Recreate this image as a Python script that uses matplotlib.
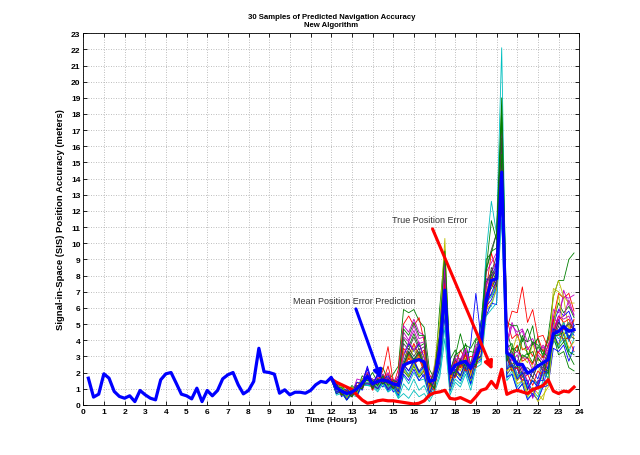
import numpy as np
import matplotlib
matplotlib.use("Agg")
import matplotlib.pyplot as plt

plt.rcParams["font.family"] = ["Liberation Sans", "DejaVu Sans"]

# mean position error prediction, every 15 min from 0.25 h to 23.75 h
mean_pred = [
    1.65, 0.48, 0.66, 1.92, 1.65, 0.83, 0.52, 0.41, 0.56, 0.20, 0.89, 0.62,
    0.41, 0.31, 1.55, 1.92, 2.00, 1.34, 0.66, 0.56, 0.37, 1.03, 0.20, 0.89,
    0.56, 0.89, 1.61, 1.86, 2.00, 1.24, 0.68, 0.89, 1.45, 3.50, 2.05, 2.00,
    1.90, 0.72, 0.93, 0.62, 0.78, 0.78, 0.72, 0.89, 1.24, 1.45, 1.38,
    1.70, 1.05, 0.85, 0.70, 0.80, 1.00, 1.35, 1.75, 1.30, 1.45, 1.55, 1.45,
    1.30, 1.20, 2.45, 2.60, 2.70, 2.80, 2.65, 1.45, 1.55, 3.40, 7.10, 1.95,
    2.45, 2.60, 2.70, 2.25, 3.00, 3.80, 6.50, 7.70, 7.80, 14.40, 3.20, 3.00,
    2.50, 2.50, 1.95, 2.15, 2.40, 2.60, 2.80, 4.40, 4.55, 4.85, 4.55, 4.65,
]

# true position error from 12.0 h to 23.75 h
true_err = [
    1.60, 1.40, 1.25, 1.10, 0.95, 0.60, 0.30, 0.10, 0.15, 0.25, 0.30, 0.25,
    0.25, 0.20, 0.15, 0.10, 0.05, 0.10, 0.25, 0.60, 0.75, 0.80, 0.90, 0.40,
    0.35, 0.45, 0.30, 0.15, 0.50, 0.90, 1.00, 1.45, 1.05, 2.20, 0.65, 0.80,
    0.90, 0.80, 0.70, 0.95, 1.05, 1.20, 1.55, 0.85, 0.70, 0.85, 0.80, 1.10,
]

# 30 predicted samples, 12.0 h to 23.75 h
samples = [
    [1.7,1.3,0.7,0.5,0.9,1.2,0.9,1.8,1.0,1.5,1.1,1.6,0.8,1.0, 2.4,1.8,2.6,2.1,1.7, 0.9,1.6,2.6,6.9,1.2,
     2.4,1.8,2.7,1.6,2.9,3.0, 6.6,6.8,7.4,13.5, 2.2,3.0,1.8,2.4,1.3,2.1,1.6,2.6,2.2, 4.5,3.7,4.9,4.0,4.6],
    [1.6,1.0,1.3,0.7,1.2,0.9,1.8,1.5,2.0,1.4,2.3,1.5,1.9,2.4, 5.9,5.7,5.9,5.2,4.8, 2.2,1.6,6.0,9.6,2.8,
     3.4,2.6,3.8,2.5,4.0,4.2, 9.0,9.4,10.6,18.5, 4.6,3.4,3.6,2.9,3.2,2.6,3.6,3.1,4.0, 5.2,6.3,5.7,6.1,5.4],
    [1.7,1.3,0.6,0.9,0.6,1.4,1.1,2.0,1.2,1.9,1.5,1.9,1.2,2.2, 5.0,5.5,4.9,5.4,3.9, 1.9,1.3,4.4,7.6,2.4,
     2.4,3.4,2.8,3.0,2.9,4.4, 7.1,9.4,8.2,17.0, 5.3,4.1,4.4,3.4,3.6,3.0,4.2,3.3,4.1, 5.4,6.9,6.6,6.9,5.8],
    [1.6,0.7,0.8,0.4,0.7,0.6,1.3,1.2,1.2,0.9,1.4,0.8,1.1,0.5, 1.8,1.3,2.0,1.5,1.6, 0.6,1.2,2.2,5.4,0.9,
     1.9,1.5,2.3,1.4,2.7,4.6, 9.4,12.6,10.6,22.1, 3.1,3.2,1.7,2.1,1.1,1.5,1.3,2.0,1.9, 4.0,3.5,4.8,3.9,4.9],
    [1.7,1.2,0.6,0.9,0.7,1.6,1.5,2.3,1.3,1.9,1.6,2.0,1.3,1.8, 4.5,4.0,4.9,4.1,4.2, 1.2,2.0,3.9,7.9,1.9,
     2.9,2.4,3.3,2.2,3.5,3.8, 7.4,8.2,8.8,16.0, 4.0,5.1,4.2,4.6,3.4,3.9,3.2,3.6,3.0, 5.4,5.0,7.1,6.2,5.6],
    [1.6,1.4,0.7,1.0,0.7,1.2,1.0,1.9,1.0,1.6,1.3,1.7,1.1,1.4, 3.3,2.8,3.7,3.0,3.3, 0.9,2.5,5.2,10.3,1.5,
     2.6,2.1,3.1,2.1,3.3,3.5, 7.2,7.6,8.6,15.5, 2.1,2.6,1.7,3.0,2.6,3.8,2.7,3.0,2.8, 7.2,7.0,6.6,4.6,5.2],
    [1.7,0.9,1.0,0.5,0.9,0.8,1.5,1.5,1.5,1.2,1.8,1.2,1.5,1.0, 3.8,3.4,4.2,3.4,3.6, 1.1,1.8,3.5,8.1,1.6,
     2.8,2.3,3.2,2.0,3.4,3.7, 8.4,9.6,10.6,17.5, 3.3,2.5,2.7,2.2,2.3,2.0,2.9,2.5,3.3, 4.3,5.1,4.7,5.0,4.6],
    [1.6,1.2,0.5,0.8,0.5,1.1,1.3,2.2,1.2,1.8,1.5,1.7,1.1,1.3, 2.5,3.3,2.8,3.3,2.4, 1.5,1.0,3.5,6.5,1.9,
     1.9,2.7,2.3,3.8,6.9,4.1, 7.8,7.7,8.8,15.0, 2.9,2.1,2.3,1.5,1.5,0.8,1.2,1.1,2.5, 5.0,5.9,5.5,5.8,4.9],
    [1.7,1.0,1.2,0.6,1.1,0.9,1.6,1.6,1.6,1.3,1.9,1.3,1.6,1.3, 4.1,3.6,4.4,3.6,3.8, 1.3,2.1,4.2,9.1,1.8,
     3.0,4.4,3.2,3.3,3.2,5.1, 8.4,11.4,10.2,19.0, 5.1,4.9,4.9,3.9,4.7,3.7,4.1,2.9,4.3, 6.7,7.7,7.7,9.0,9.4],
    [1.6,1.3,0.7,0.9,0.6,1.2,1.1,1.9,1.1,1.6,1.4,1.6,1.1,1.6, 3.5,3.1,3.8,3.1,3.4, 1.0,1.8,3.3,7.5,1.5,
     2.7,2.3,3.1,1.9,3.2,3.3, 6.9,7.4,7.9,14.0, 4.7,5.8,5.7,7.3,5.1,5.9,4.2,4.3,3.5, 5.3,4.3,4.7,4.5,5.3],
    [1.7,0.6,0.7,0.3,0.6,0.5,1.2,1.2,1.1,0.8,1.3,0.8,1.0,0.4, 1.3,0.9,1.6,0.9,1.2, 0.4,1.0,1.9,4.8,0.8,
     1.6,1.3,2.1,1.2,2.5,2.7, 5.9,6.1,7.2,12.5, 1.7,2.1,1.1,1.5,0.6,0.9,0.5,1.5,1.5, 4.5,4.1,4.3,3.3,4.1],
    [1.6,0.8,0.9,0.4,0.9,0.7,1.4,1.7,1.6,1.3,1.9,1.3,1.6,1.2, 4.9,4.5,5.3,4.5,4.3, 1.4,2.2,4.3,8.8,2.0,
     3.1,2.8,3.5,2.4,3.7,4.0, 8.2,8.8,9.4,17.0, 3.7,4.9,4.5,4.7,3.9,4.1,3.2,3.7,3.3, 5.9,5.7,6.7,6.6,6.8],
    [1.7,1.3,0.6,0.9,0.6,1.2,1.1,1.8,1.0,1.5,1.3,1.5,1.0,1.2, 2.2,3.0,2.5,3.0,2.1, 1.3,0.9,3.3,5.9,1.8,
     1.7,2.5,2.1,2.2,2.3,3.7, 5.9,7.7,7.2,14.2, 3.5,3.3,4.3,3.5,3.3,2.3,2.5,1.5,3.3, 6.7,7.7,6.7,6.3,6.3],
    [1.6,0.8,1.0,0.4,0.9,0.7,1.4,1.4,1.4,1.2,1.7,1.1,1.4,0.9, 2.5,2.1,2.8,2.1,2.5, 0.7,1.5,2.5,6.3,1.1,
     2.2,1.8,2.6,1.5,2.8,3.0, 7.6,8.2,9.2,16.5, 1.9,2.3,1.5,1.9,0.9,1.7,1.3,2.3,2.1, 4.7,4.3,5.1,4.2,4.5],
    [1.7,1.4,0.8,1.0,0.7,1.4,1.3,2.4,1.3,1.9,1.6,1.8,1.3,1.6, 3.0,3.8,3.3,3.8,2.9, 1.6,1.2,3.9,6.7,2.0,
     2.0,2.8,2.4,2.5,2.6,5.2, 5.5,6.3,6.2,13.0, 3.3,2.3,2.3,1.3,1.3,0.5,1.5,1.5,3.1, 4.5,5.3,4.3,4.7,4.3],
    [1.6,0.7,0.8,0.3,0.8,0.6,1.3,1.3,1.3,1.0,1.5,1.0,1.3,0.7, 2.1,1.7,2.4,1.7,2.1, 0.6,1.4,2.3,6.1,1.0,
     2.1,1.7,2.5,1.5,2.7,2.9, 6.9,7.2,7.9,14.6, 3.1,3.3,2.5,4.1,3.9,4.9,2.9,2.5,1.5, 4.3,3.1,3.3,2.3,2.1],
    [1.7,1.3,0.7,0.9,0.6,1.2,1.0,1.7,0.9,1.5,2.1,3.6,1.4,1.4, 2.3,3.1,2.6,3.1,2.2, 1.4,1.0,3.4,6.1,1.8,
     1.8,2.6,2.2,2.3,2.4,3.8, 6.1,7.9,7.5,14.8, 3.3,2.9,3.7,2.7,2.9,2.5,3.3,2.9,3.7, 4.3,4.3,4.1,4.1,3.3],
    [1.6,0.8,0.9,0.3,0.8,0.6,1.3,1.2,1.2,1.0,1.5,0.9,1.2,0.4, 0.7,0.4,0.9,0.5,0.7, 0.2,0.8,1.7,4.1,0.6,
     1.4,1.1,1.9,0.9,2.3,2.5, 5.5,5.9,6.3,11.5, 1.5,1.9,0.9,1.3,0.4,0.7,0.3,1.3,1.3, 4.1,3.7,4.1,3.1,3.3],
    [1.7,1.3,0.7,0.9,0.6,1.2,1.1,1.9,1.1,1.7,1.4,1.6,1.1,1.8, 4.2,3.9,4.6,3.8,3.9, 1.3,2.1,4.1,8.5,1.9,
     2.9,2.6,3.4,2.2,3.5,3.8, 7.5,8.0,8.3,15.2, 3.9,3.1,3.3,2.9,2.9,2.1,3.1,2.7,3.7, 4.5,5.3,5.5,6.5,5.5],
    [1.6,1.0,1.2,0.6,1.1,0.9,1.6,1.5,1.4,1.1,1.6,1.1,1.4,1.0, 3.2,2.8,3.5,2.8,3.1, 0.9,1.7,3.1,6.9,1.4,
     2.5,2.1,2.9,1.8,3.1,3.3, 6.5,6.7,7.6,13.8, 2.1,2.5,1.5,1.9,0.7,1.1,0.7,0.3,1.7, 4.7,6.8,4.7,4.9,4.1],
    [1.7,1.2,0.6,0.8,0.5,1.1,1.0,1.8,1.0,1.6,1.3,1.5,1.0,1.5, 2.7,3.5,3.0,3.5,2.6, 1.5,1.1,3.6,6.4,2.0,
     1.9,2.7,2.3,2.4,2.5,4.0, 6.5,8.5,7.9,15.0, 2.9,2.1,2.5,1.7,2.1,1.7,2.5,2.1,2.9, 3.9,4.9,3.9,4.3,4.1],
    [1.6,0.7,0.9,0.3,0.8,0.6,1.3,1.3,1.2,1.0,1.5,0.9,1.2,0.6, 1.9,1.5,2.2,1.5,1.9, 0.5,1.3,2.3,5.5,0.9,
     1.9,1.5,2.3,1.3,2.6,2.8, 6.1,6.5,7.3,13.2, 1.7,1.9,0.9,1.3,0.3,0.7,0.3,1.1,1.2, 3.5,3.3,3.7,2.7,3.6],
    [1.7,1.0,1.1,0.5,1.0,0.8,1.5,1.5,1.5,1.2,1.8,1.2,1.5,1.4, 4.7,4.3,5.1,4.3,4.3, 1.3,2.1,4.5,9.5,2.1,
     3.1,3.3,3.7,3.5,4.1,4.3, 8.3,9.5,9.7,17.8, 3.5,3.8,2.3,3.1,2.9,3.9,3.7,3.3,2.9, 4.3,4.3,4.5,3.3,3.1],
    [1.6,1.2,0.6,0.8,0.5,1.1,1.0,1.8,1.0,1.6,1.4,2.4,1.1,1.3, 2.1,2.9,2.4,2.9,2.0, 1.3,0.9,3.2,5.8,1.7,
     1.7,2.5,2.1,2.2,2.3,3.7, 5.7,7.5,7.1,14.0, 3.1,2.1,2.3,1.5,1.9,1.2,2.1,1.8,2.7, 4.5,5.5,5.1,5.3,4.5],
    [1.7,0.9,1.0,0.5,0.9,0.7,1.4,1.4,1.4,1.1,1.6,1.1,1.4,0.8, 2.3,1.9,2.6,1.9,2.3, 0.7,1.4,2.4,5.9,1.0,
     2.1,1.7,2.5,1.5,2.7,2.9, 6.3,6.7,7.3,13.2, 2.3,2.5,1.7,2.1,1.1,1.5,1.1,1.9,1.7, 4.5,4.3,5.1,4.1,4.5],
    [1.6,1.3,0.7,0.9,0.6,1.2,1.1,2.0,1.1,1.6,1.4,1.7,1.1,1.5, 3.1,3.9,3.4,3.9,2.9, 1.6,1.2,3.9,6.8,2.1,
     2.1,2.9,2.5,2.6,2.7,4.1, 6.7,8.3,7.7,15.0, 3.5,2.7,3.1,2.1,1.5,0.4,1.3,2.1,3.3, 4.7,5.5,5.3,5.5,4.7],
    [1.7,0.8,0.9,0.4,0.9,0.7,1.4,1.3,1.3,1.0,1.6,1.0,1.3,0.7, 2.2,1.8,2.5,1.8,2.2, 0.6,1.4,2.5,6.3,1.0,
     2.1,1.7,2.5,1.5,2.7,2.9, 5.9,6.3,7.1,12.8, 2.1,2.3,1.3,1.5,0.5,0.9,0.2,0.6,1.1, 4.1,3.7,4.5,3.5,3.9],
    [1.6,1.3,0.7,0.9,0.6,1.2,1.1,1.9,1.1,1.6,1.3,1.6,1.1,1.4, 2.4,3.2,2.7,3.2,2.3, 1.4,1.0,3.5,6.2,1.9,
     1.8,2.6,2.2,2.3,2.4,3.8, 6.1,8.1,7.3,14.5, 3.1,2.3,2.7,1.9,2.1,1.7,2.5,2.3,3.1, 4.3,5.1,4.7,5.1,4.7],
    [1.7,0.8,0.9,0.3,0.8,0.6,1.3,1.3,1.3,1.0,1.5,1.0,1.3,0.8, 2.5,2.1,2.7,2.0,2.4, 0.7,1.5,2.6,6.5,1.1,
     2.2,1.8,2.6,1.6,2.8,3.0, 6.3,6.9,7.7,14.0, 2.2,2.5,1.6,2.0,1.0,1.5,1.1,2.1,2.0, 4.7,4.5,4.9,4.1,4.9],
    [1.6,1.3,0.6,0.8,0.5,1.1,1.0,1.8,1.0,1.6,1.3,1.5,1.0,1.4, 2.5,3.3,2.8,3.3,2.4, 1.4,1.0,3.7,6.5,2.0,
     2.0,2.8,2.4,2.5,2.5,4.0, 6.3,8.3,7.7,15.5, 2.7,3.5,3.3,4.3,3.1,3.3,2.3,2.7,1.9, 4.5,3.5,3.9,3.1,2.5],
]

# old matlab line colour order
line_colors = [(0, 0, 1), (0, 0.5, 0), (1, 0, 0), (0, 0.75, 0.75),
               (0.75, 0, 0.75), (0.75, 0.75, 0), (0.25, 0.25, 0.25)]

t_mean = np.arange(1, len(mean_pred) + 1) * 0.25
t_samp = 12 + np.arange(len(true_err)) * 0.25

fig = plt.figure(figsize=(6.4, 4.56), dpi=100)
ax = fig.add_axes([0.13, 0.11, 0.775, 0.815])

for i, s in enumerate(samples):
    ax.plot(t_samp, s, color=line_colors[i % 7], lw=0.6)
ax.plot(t_samp, true_err, color="red", lw=2.3)
ax.plot(t_mean, mean_pred, color="blue", lw=2.3)

ax.annotate("", xy=(14.45, 1.45), xytext=(13.15, 6.1),
            arrowprops=dict(arrowstyle="-|>", color="blue", lw=2.2, mutation_scale=12))
ax.annotate("", xy=(19.85, 2.0), xytext=(16.85, 11.05),
            arrowprops=dict(arrowstyle="-|>", color="red", lw=2.2, mutation_scale=12))
ax.text(10.15, 6.45, "Mean Position Error Prediction", fontsize=6.5, color="#333333",
        va="center", ha="left")
ax.text(14.95, 11.5, "True Position Error", fontsize=6.5, color="#333333",
        va="center", ha="left")

ax.set_xlim(0, 24)
ax.set_ylim(0, 23)
ax.set_xticks(range(0, 25))
ax.set_yticks(range(0, 24))
ax.tick_params(direction="in", top=True, right=True, length=3, width=0.6,
               labelsize=6, pad=2)
for lab in ax.get_xticklabels() + ax.get_yticklabels():
    lab.set_fontweight("bold")
ax.grid(True, linestyle=(0, (1, 2)), color="#a8a8a8", lw=0.6)
for sp in ax.spines.values():
    sp.set_linewidth(0.6)

ax.set_xlabel("Time (Hours)", fontsize=6, fontweight="bold", labelpad=1)
ax.set_ylabel("Signal-in-Space (SIS) Position Accuracy (meters)", fontsize=6.8,
              fontweight="bold", labelpad=4)
ax.set_title("30 Samples of Predicted Navigation Accuracy\nNew Algorithm",
             fontsize=5.6, fontweight="bold", pad=5, linespacing=1.25)

fig.savefig("out.png", dpi=100)
